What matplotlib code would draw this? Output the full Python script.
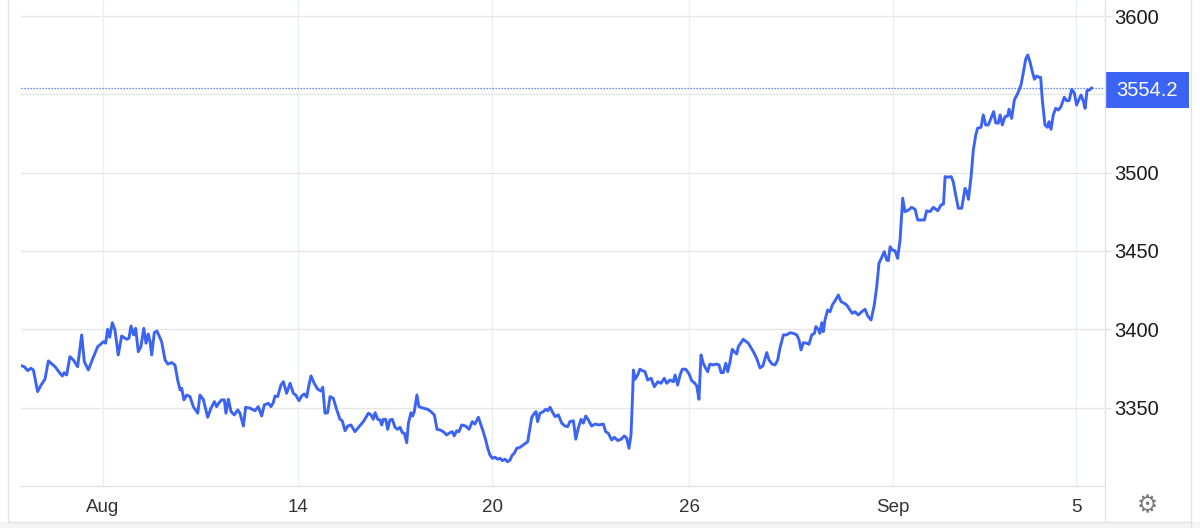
import matplotlib
matplotlib.use("Agg")
import matplotlib.pyplot as plt
from matplotlib.patches import Rectangle
from matplotlib.lines import Line2D
from matplotlib.transforms import blended_transform_factory

# ---- data (trading hours since start of window, price) ----
hours = [
    0, 1.6, 3.3, 4.9, 6.1, 8.2, 9.9, 11.8, 13.5, 16.8, 19.2, 20.4, 21.3, 22.5, 24.1, 25.8, 27.9, 29.9, 31.2, 33.2,
    35.1, 37.8, 39.4, 40.6, 41.7, 42.7, 43.7, 45.0, 46.3, 47.9, 49.6, 52.1, 53.2, 54.2, 55.5, 56.5, 57.8, 59.1, 60.5,
    61.6, 62.7, 63.6, 64.4, 65.7, 67.0, 69.3, 71.0, 72.3, 74.3, 75.9, 77.2, 78.4, 79.2, 80.3, 81.7, 83.3, 84.9,
    87.1, 88.2, 89.8, 92.0, 93.6, 95.3, 96.4, 97.6, 98.9, 100.2, 101.0, 102.2, 103.5, 105.1, 106.8, 107.9, 109.6,
    110.7, 112.9, 115.3, 116.9, 118.6, 119.9, 121.9, 123.2, 124.3, 125.2, 126.5, 128.1, 129.3, 130.9, 132.6, 134.2,
    135.4, 137.0, 138.3, 139.6, 140.8, 141.9, 142.9, 144.5, 146.2, 147.8, 148.7, 149.8, 151.1, 152.3, 153.9, 155.6,
    157.2, 158.3, 159.7, 161.0, 162.6, 164.6, 166.6, 168.7, 171.2, 172.5, 173.6, 174.5,
    175.8, 176.9, 177.8, 178.5, 179.7, 180.7, 181.8, 183.0, 184.3, 185.6, 186.8, 187.9, 188.9, 190.1, 190.9, 192.2,
    193.0, 193.8, 195.1, 196.1, 198.2, 200.4, 202.0, 203.7, 205.0, 206.5, 208.1, 209.8, 211.4, 212.5, 213.5, 214.7,
    215.8, 217.2, 219.1, 220.8, 222.4, 223.7, 225.4, 226.7, 227.8, 229.0, 230.0, 231.1, 232.3, 233.6, 234.9, 236.1,
    237.2, 238.5, 239.8, 241.0, 242.1, 243.1, 244.3, 245.9, 247.5, 249.7, 250.8, 251.7, 253.0, 253.8, 254.6, 255.8,
    257.4, 258.6, 259.6, 260.7, 261.8,
    263.2, 264.8, 266.5, 268.1, 269.4, 270.5, 272.2, 273.4, 274.6, 276.0, 277.1, 278.3, 279.6, 281.2, 282.9, 284.8,
    287.0, 288.1, 289.4, 291.1, 292.4, 294.1, 295.7, 297.3, 298.5, 299.6, 300.6, 301.3, 301.8, 302.6, 303.9, 305.0,
    306.2, 307.5, 308.8, 310.5, 312.1, 313.8, 315.4, 317.0, 318.2, 319.8, 321.5, 322.3, 323.6, 324.8, 325.9, 327.6,
    329.2, 330.5, 331.8, 333.0, 334.1, 335.1, 336.2, 337.4, 338.4, 339.5, 341.2, 342.8, 344.0, 345.0, 346.1, 347.3,
    348.3, 349.4, 350.5, 351.5, 352.7,
    353.5, 355.9, 358.4, 360.9, 362.5, 364.2, 365.6, 367.5, 368.6, 370.1, 371.6, 372.9, 374.0, 375.7, 377.3, 379.0,
    380.6, 382.3, 383.4, 384.4, 385.5, 387.2, 388.3, 389.7, 391.0, 391.7, 392.9, 393.7, 394.6, 395.4, 396.2, 397.5,
    398.7, 399.8, 401.2, 402.8, 404.1, 405.2, 406.9, 408.5, 409.7, 411.0, 412.6, 414.3, 415.9, 417.3, 418.9, 420.5,
    421.7, 422.8, 424.2, 425.4, 426.6, 427.4, 428.3, 429.4, 430.7, 432.0, 433.2, 434.5, 435.6, 437.4, 438.9, 440.6,
    441.9, 443.5, 445.2, 446.3, 448.0, 449.6, 451.8, 453.4, 454.6, 455.4, 456.7, 458.4, 459.4, 460.6, 461.9, 463.6,
    465.2, 466.1, 466.9, 468.2, 469.3, 470.5, 471.4, 473.1, 474.2, 475.4, 476.7, 478.0, 479.3, 480.3, 481.6, 482.5,
    483.6, 484.9, 486.2, 486.9, 488.2, 489.5, 491.2, 492.8, 493.9, 495.1, 496.1, 497.2, 498.4, 499.4, 500.6, 501.7,
    502.5, 503.3, 504.6, 505.9, 506.6, 507.6, 508.7, 509.9, 511.2, 512.5, 514.1, 515.3, 516.5, 517.8, 519.1, 520.2,
    521.4, 522.4, 523.6, 524.4, 525.3, 526.4, 527.7,
]

price = [
    3376.8, 3376.1, 3373.6, 3375.1, 3374.0, 3360.2, 3364.4, 3368.1, 3379.8, 3376.1, 3371.9, 3370.2, 3372.3, 3370.8,
    3382.5, 3380.4, 3376.1, 3396.4, 3379.3, 3374.0, 3380.4, 3388.9, 3390.6, 3392.1, 3391.1, 3400.0, 3394.9, 3404.2,
    3399.6, 3383.6, 3395.7, 3393.6, 3394.3, 3402.1, 3396.4, 3400.6, 3385.7, 3388.9, 3400.6, 3391.1, 3397.0, 3392.1,
    3383.6, 3397.8, 3398.9, 3392.1, 3380.4, 3377.8, 3378.7, 3377.2, 3367.6, 3361.2, 3362.3, 3354.9, 3358.0, 3357.0,
    3350.6,
    3346.4, 3358.0, 3355.3, 3343.8, 3349.6, 3353.8, 3350.6, 3353.1, 3354.9, 3354.9, 3346.4, 3355.3, 3347.4, 3345.3,
    3348.5, 3346.4, 3338.2, 3350.2, 3349.6, 3348.0, 3350.6, 3344.6, 3351.7, 3352.7, 3350.6, 3353.1, 3357.4, 3357.0,
    3364.4, 3366.5, 3359.1, 3365.5, 3359.1, 3358.0, 3354.4, 3357.4, 3358.7, 3356.6, 3364.4, 3370.2, 3365.5, 3361.7,
    3360.6, 3363.0, 3346.4, 3346.7, 3357.0, 3355.9, 3348.5, 3342.5, 3341.6, 3335.2, 3338.2, 3338.9, 3334.6, 3337.8,
    3341.0, 3346.4, 3345.3, 3342.5, 3346.7,
    3342.5, 3342.1, 3338.9, 3342.5, 3342.5, 3336.1, 3342.1, 3342.5, 3337.4, 3336.1, 3337.4, 3334.0, 3333.6, 3327.6,
    3340.0, 3346.7, 3344.6, 3347.4, 3358.0, 3350.6, 3349.6, 3348.9, 3347.4, 3345.3, 3336.1, 3335.7, 3334.6, 3332.5,
    3334.0, 3334.6, 3331.9, 3335.2, 3334.6, 3338.9, 3338.2, 3336.1, 3341.0, 3339.5, 3343.8, 3338.9, 3334.6, 3329.3,
    3324.0, 3319.7, 3317.6, 3318.3, 3317.0, 3317.6, 3316.1, 3317.0, 3315.4, 3316.5, 3319.7, 3320.8, 3324.0, 3324.6,
    3326.1, 3328.2, 3336.8, 3343.8, 3346.4, 3347.4, 3341.0, 3346.4, 3347.4, 3348.9, 3348.0, 3350.2, 3347.4,
    3344.2, 3345.3, 3340.0, 3338.2, 3337.8, 3341.0, 3341.6, 3329.8, 3336.8, 3342.5, 3340.0, 3344.6, 3342.1, 3338.2,
    3339.5, 3338.9, 3339.5, 3334.6, 3333.6, 3329.3, 3331.0, 3328.9, 3329.8, 3331.9, 3330.4, 3324.0, 3332.5, 3354.9,
    3374.0, 3368.1, 3370.8, 3374.5, 3373.6, 3372.9, 3367.6, 3368.7, 3363.3, 3366.5, 3365.5, 3368.7, 3365.5, 3367.6,
    3366.5, 3370.8, 3364.4, 3370.8, 3374.5, 3374.5, 3371.5, 3367.2, 3365.9, 3363.8, 3355.3, 3383.6, 3378.3, 3375.1,
    3372.9, 3377.8, 3377.2, 3377.8, 3377.2, 3372.3, 3372.3, 3378.3, 3372.9, 3379.3, 3387.2, 3385.7, 3384.2,
    3388.9, 3393.6, 3391.1, 3385.7, 3381.5, 3375.3, 3376.6, 3385.1, 3380.4, 3377.8, 3377.2, 3380.4, 3387.9, 3396.4,
    3396.4, 3397.8, 3397.4, 3396.4, 3393.2, 3386.8, 3391.4, 3391.1, 3390.4, 3396.4, 3397.4, 3401.7, 3400.0, 3397.4,
    3404.2, 3398.5, 3405.9, 3412.3, 3411.2, 3415.5, 3418.3, 3421.9, 3417.6, 3417.0, 3415.5, 3412.3, 3410.2, 3411.2,
    3409.1, 3411.2, 3412.8, 3408.5, 3405.9, 3415.5, 3427.2, 3442.1, 3446.0, 3449.6, 3444.3, 3443.8, 3452.7, 3450.6,
    3450.2, 3445.3, 3457.0, 3483.7, 3475.1, 3476.2, 3477.9, 3476.6,
    3469.8, 3469.8, 3469.8, 3475.7, 3475.1, 3477.9, 3475.7, 3479.4, 3480.0, 3497.5, 3497.1, 3497.5, 3494.3, 3485.8,
    3477.3, 3477.3, 3490.0, 3487.9, 3483.0, 3497.5, 3514.5, 3524.1, 3528.4, 3529.0, 3536.9, 3530.5, 3530.5, 3534.7,
    3539.0, 3531.9, 3531.6, 3536.9, 3530.5, 3535.8, 3536.2, 3540.5, 3534.7, 3546.4, 3550.7, 3556.0, 3563.5, 3572.4,
    3575.2, 3570.9, 3564.5, 3559.7, 3561.8, 3560.9, 3560.9, 3546.4, 3530.5, 3529.0, 3532.6, 3527.7, 3536.9, 3541.1,
    3540.0, 3542.2, 3548.2, 3546.0, 3546.0, 3553.3, 3550.7, 3543.2, 3546.9, 3549.6, 3545.3, 3541.1, 3552.4, 3552.8,
    3554.2,
]

x_tick_hours = [40.4, 136.3, 232.3, 329.2, 429.7, 519.9]
x_tick_labels = ["Aug", "14", "20", "26", "Sep", "5"]
y_ticks = [3350, 3400, 3450, 3500, 3550, 3600]
y_tick_labels = ["3350", "3400", "3450", "3500", "", "3600"]  # 3550 is covered by the price badge
last_price = 3554.2
last_label = "3554.2"

# ---- style ----
LINE = "#3c64f4"
HGRID = "#e6e6e6"
VGRID = "#ebf0f5"
FRAME = "#e2e2e2"
TXT = "#1a1a1a"
FONT = ["Liberation Sans", "DejaVu Sans"]

W, H = 1200, 528
fig = plt.figure(figsize=(W / 100, H / 100), dpi=100)
fig.patch.set_facecolor("white")

L, R, B, T = 21, 1104, 486, 0
ax = fig.add_axes([L / W, (H - B) / H, (R - L) / W, (B - T) / H])
ax.set_facecolor("white")

ax.plot(hours, price, color=LINE, lw=2.1, solid_joinstyle="round", solid_capstyle="round", zorder=4)
ax.axhline(last_price, color=LINE, lw=0.9, ls=(0, (1, 1.4)), zorder=3)

ax.set_xlim(0, 533.7)
ax.set_ylim(3299.9, 3610.3)

ax.set_xticks(x_tick_hours)
ax.set_xticklabels(x_tick_labels, fontsize=13.5, color="#333333", family=FONT)
ax.set_yticks(y_ticks)
ax.set_yticklabels(y_tick_labels, fontsize=14.5, color=TXT, family=FONT)
ax.yaxis.tick_right()
ax.tick_params(axis="y", length=5, width=1, color=FRAME, pad=2)
ax.tick_params(axis="x", length=0, pad=9)

ax.grid(axis="y", color=HGRID, lw=1, zorder=0)
ax.grid(axis="x", color=VGRID, lw=1, zorder=0)
ax.set_axisbelow(True)

for s in ["top", "left", "right"]:
    ax.spines[s].set_visible(False)
ax.spines["bottom"].set_color(FRAME)
ax.spines["bottom"].set_linewidth(1)

# badge for last price
bt = blended_transform_factory(ax.transAxes, ax.transData)
px_per_unit = (B - T) / (3610.3 - 3299.9)
bx0 = (1105 - L) / (R - L)
bw = 84 / (R - L)
bh = 36 / px_per_unit
bc = last_price - 1.5
ax.add_patch(Rectangle((bx0, bc - bh / 2), bw, bh, transform=bt,
                       facecolor=LINE, edgecolor="none", clip_on=False, zorder=6))
ax.text(bx0 + bw / 2, bc, last_label, transform=bt, ha="center", va="center",
        color="white", fontsize=14.5, family=FONT, zorder=7, clip_on=False)

# widget frame
ft = fig.transFigure
fig.add_artist(Line2D([7.5 / W, 7.5 / W], [6 / H, 1], transform=ft, color=FRAME, lw=1))
fig.add_artist(Line2D([1104.5 / W, 1104.5 / W], [6 / H, 1], transform=ft, color=FRAME, lw=1))
fig.add_artist(Line2D([1190.5 / W, 1190.5 / W], [0, 1], transform=ft, color=FRAME, lw=1))
fig.add_artist(Rectangle((0, 0), 1, 6 / H, transform=ft, facecolor="#f4f4f4", edgecolor="none"))
fig.add_artist(Line2D([7.5 / W, 1190.5 / W], [6 / H, 6 / H], transform=ft, color=FRAME, lw=1))

# settings gear
fig.text(1147 / W, (H - 505) / H, "\u2699", ha="center", va="center", fontsize=17,
         color="#7a7a7a", family="DejaVu Sans")

fig.savefig("out.png", dpi=100, facecolor="white")
